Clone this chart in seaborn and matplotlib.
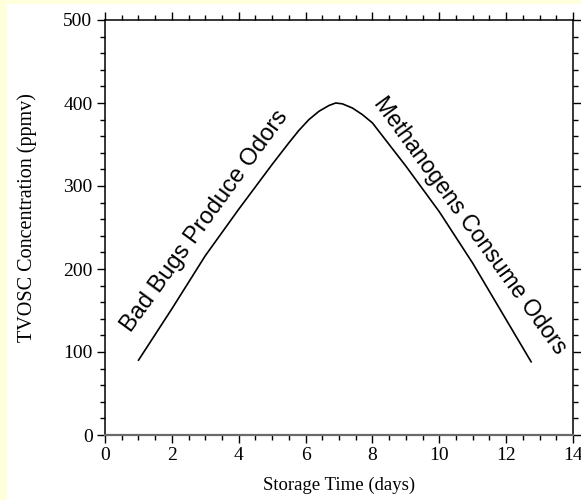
import numpy as np
import pandas as pd
import matplotlib
matplotlib.use("Agg")
import matplotlib.pyplot as plt
from matplotlib.ticker import MultipleLocator
from matplotlib.patches import Rectangle
import seaborn as sns

# Odor curve: total volatile organic sulfur compounds over storage time
days = [1.0, 2.0, 3.0, 4.0, 5.0, 5.5, 5.8, 6.1, 6.4, 6.7, 6.9, 7.1, 7.4, 7.7, 8.0,
        9.0, 10.0, 11.0, 12.0, 12.75]
tvosc = [90, 152, 216, 272, 326, 352, 367, 380, 390, 397, 400, 399, 394, 386, 376,
         324, 269, 207, 139, 88]

x_ticks = [0, 2, 4, 6, 8, 10, 12, 14]
y_ticks = [0, 100, 200, 300, 400, 500]

rise_label = "Bad Bugs Produce Odors"
fall_label = "Methanogens Consume Odors"

sns.set_style("ticks")
plt.rcParams["font.family"] = ["Liberation Serif", "DejaVu Serif"]
plt.rcParams["text.color"] = "black"
plt.rcParams["axes.labelcolor"] = "black"
plt.rcParams["xtick.color"] = "black"
plt.rcParams["ytick.color"] = "black"

fig = plt.figure(figsize=(5.81, 5.0), dpi=100, facecolor="white")
# pale yellow frame strips on the left and top edge
fig.patches.append(Rectangle((0, 0), 7 / 581, 1, transform=fig.transFigure,
                             facecolor="#FFFFDC", edgecolor="none", zorder=0))
fig.patches.append(Rectangle((0, 1 - 4 / 500), 1, 4 / 500, transform=fig.transFigure,
                             facecolor="#FFFFDC", edgecolor="none", zorder=0))

ax = fig.add_axes([105 / 581, 1 - 435 / 500, (573 - 105) / 581, (435 - 20) / 500])
ax.set_facecolor("white")

df = pd.DataFrame({"Storage Time (days)": days, "TVOSC": tvosc})
sns.lineplot(data=df, x="Storage Time (days)", y="TVOSC", ax=ax,
             color="black", linewidth=1.2, estimator=None, sort=False)

ax.set_xlim(x_ticks[0], x_ticks[-1])
ax.set_ylim(y_ticks[0], y_ticks[-1])
ax.set_xticks(x_ticks)
ax.set_yticks(y_ticks)
ax.xaxis.set_minor_locator(MultipleLocator(0.5))
ax.yaxis.set_minor_locator(MultipleLocator(20))

ax.tick_params(which="both", direction="out", top=True, right=True,
               labeltop=False, labelright=False, color="black", width=1.0,
               labelcolor="black")
ax.tick_params(which="major", length=6, labelsize=14, pad=3)
ax.tick_params(which="minor", length=3.6)

for side in ["left", "top", "right"]:
    ax.spines[side].set_visible(True)
    ax.spines[side].set_color("black")
    ax.spines[side].set_linewidth(1.1)
ax.spines["bottom"].set_color("#6a6a6a")
ax.spines["bottom"].set_linewidth(1.6)

ax.set_xlabel("Storage Time (days)", fontsize=13.5, labelpad=9, color="black")
ax.set_ylabel("TVOSC Concentration (ppmv)", fontsize=14.5, color="black")
ax.yaxis.set_label_coords(-0.145, 0.525)

ax.text(3.0, 258, rise_label, rotation=54, rotation_mode="anchor",
        ha="center", va="center", fontsize=17, color="black",
        family=["Liberation Sans", "DejaVu Sans"])
ax.text(10.92, 252, fall_label, rotation=-54, rotation_mode="anchor",
        ha="center", va="center", fontsize=16.5, color="black",
        family=["Liberation Sans", "DejaVu Sans"])

fig.savefig("out.png", dpi=100, facecolor=fig.get_facecolor())
